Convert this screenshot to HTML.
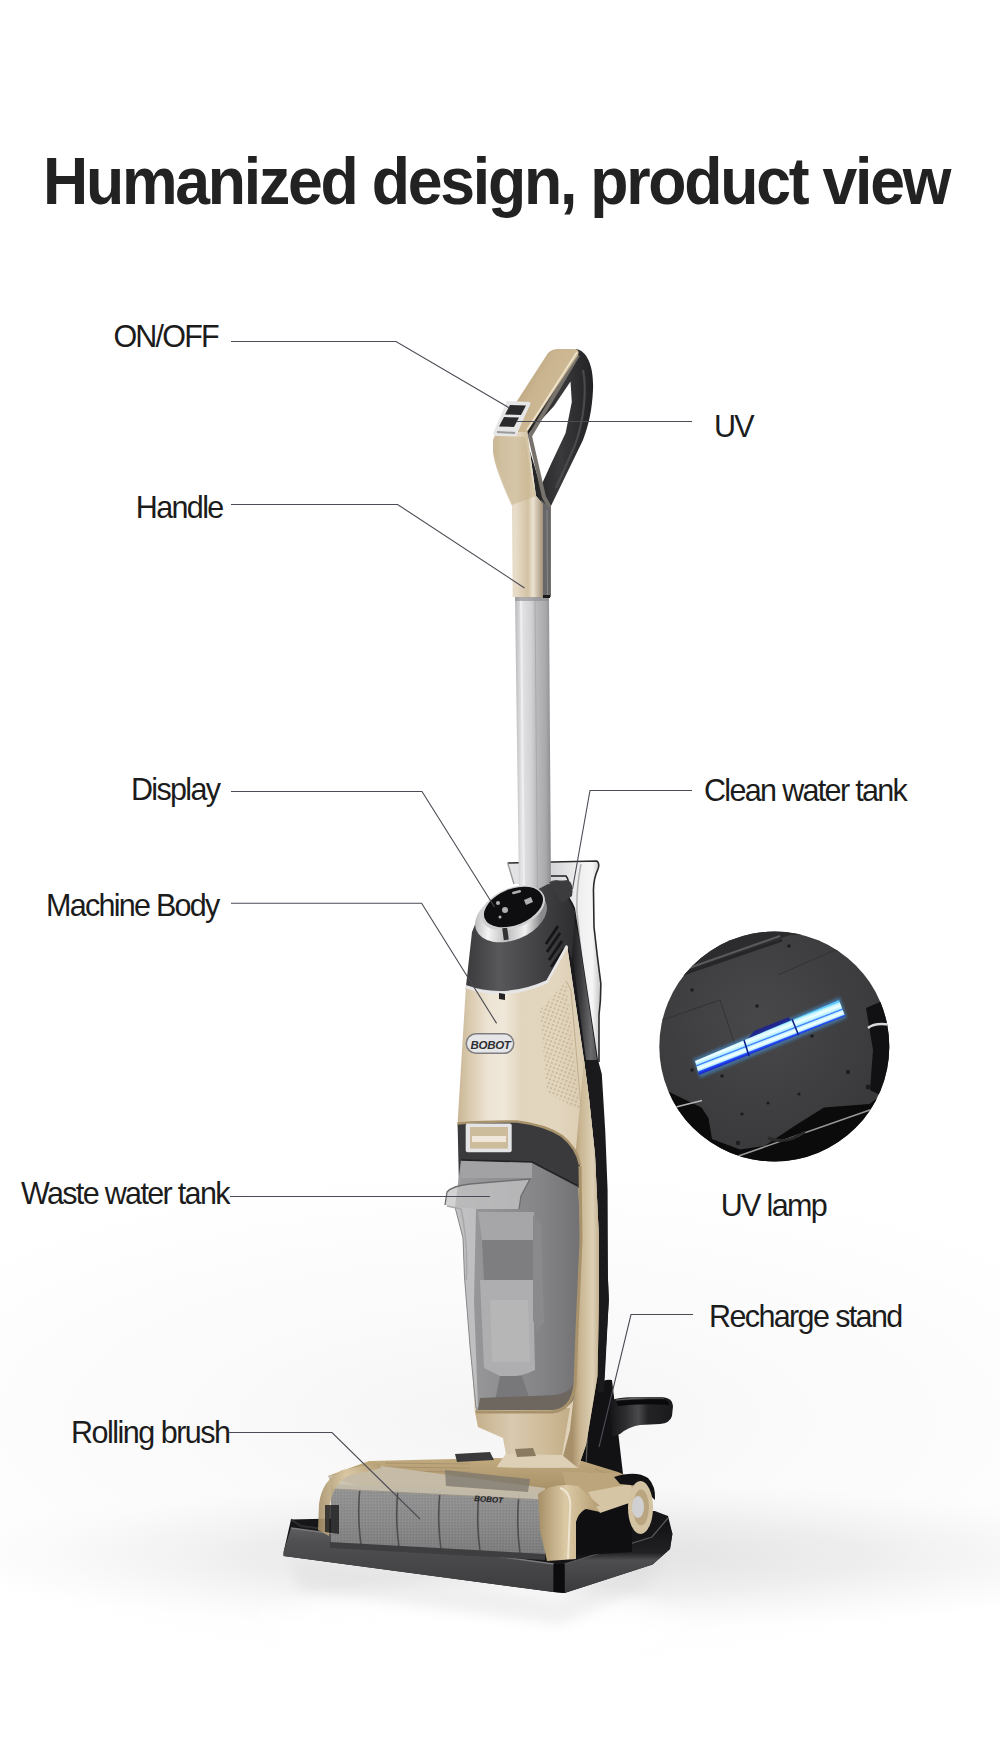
<!DOCTYPE html>
<html><head><meta charset="utf-8">
<style>
html,body{margin:0;padding:0;}
body{width:1000px;height:1737px;position:relative;overflow:hidden;
 background:#fff;font-family:"Liberation Sans",sans-serif;}
#bg{position:absolute;left:0;top:0;width:1000px;height:1737px;}
.ttl{position:absolute;left:43px;top:148.4px;font-size:66.5px;line-height:66.5px;font-weight:bold;color:#222;letter-spacing:-2.35px;white-space:nowrap;transform:scaleX(0.94);transform-origin:0 0;}
.lb{position:absolute;font-size:30.5px;line-height:30.5px;color:#1c1c1c;white-space:nowrap;}
svg{position:absolute;left:0;top:0;}
</style></head><body>
<svg id="bg" width="1000" height="1737" viewBox="0 0 1000 1737">
<defs>
<radialGradient id="bgg" cx="500" cy="1000" r="900" gradientUnits="userSpaceOnUse">
<stop offset="0.55" stop-color="#ffffff"/><stop offset="1" stop-color="#ffffff"/>
</radialGradient>
</defs>
<rect width="1000" height="1737" fill="url(#bgg)"/>
</svg>
<svg id="art" width="1000" height="1737" viewBox="0 0 1000 1737">
<defs>
<linearGradient id="gold" x1="0" y1="0" x2="1" y2="0">
<stop offset="0" stop-color="#cdb891"/><stop offset="0.35" stop-color="#ecdfc6"/><stop offset="0.7" stop-color="#dcc9a6"/><stop offset="1" stop-color="#b39c72"/>
</linearGradient>
<linearGradient id="pole" x1="0" y1="0" x2="1" y2="0">
<stop offset="0" stop-color="#b9b9bb"/><stop offset="0.18" stop-color="#e4e4e6"/><stop offset="0.45" stop-color="#d2d2d4"/><stop offset="0.6" stop-color="#bababc"/><stop offset="0.85" stop-color="#a9a9ab"/><stop offset="1" stop-color="#8c8c8e"/>
</linearGradient>
</defs>
<!-- ===== BACKGROUND BAND + reflection ===== -->
<defs>
<radialGradient id="band" cx="0" cy="0" r="1" gradientUnits="userSpaceOnUse" gradientTransform="translate(560 1556) scale(620 75)">
<stop offset="0" stop-color="#dcdcdc" stop-opacity="0.9"/><stop offset="0.5" stop-color="#e4e4e4" stop-opacity="0.6"/><stop offset="1" stop-color="#f0f0f0" stop-opacity="0"/>
</radialGradient>
<radialGradient id="band2" cx="0" cy="0" r="1" gradientUnits="userSpaceOnUse" gradientTransform="translate(500 1420) scale(700 260)">
<stop offset="0" stop-color="#f2f2f2" stop-opacity="0.8"/><stop offset="1" stop-color="#f6f6f6" stop-opacity="0"/>
</radialGradient>
<radialGradient id="reflg" cx="0" cy="0" r="1" gradientUnits="userSpaceOnUse" gradientTransform="translate(470 1630) scale(240 55)">
<stop offset="0" stop-color="#ffffff" stop-opacity="1"/><stop offset="0.7" stop-color="#ffffff" stop-opacity="0.8"/><stop offset="1" stop-color="#ffffff" stop-opacity="0"/>
</radialGradient>
</defs>
<rect x="0" y="1160" width="1000" height="520" fill="url(#band2)"/>
<rect x="0" y="1460" width="1000" height="200" fill="url(#band)"/>
<rect x="200" y="1560" width="560" height="140" fill="url(#reflg)"/>
<filter id="rblur" x="-10%" y="-50%" width="120%" height="200%"><feGaussianBlur stdDeviation="6"/></filter>
<path d="M290,1560 L560,1598 L665,1552 L650,1585 L560,1625 L300,1590 Z" fill="#d8d8d8" opacity="0.35" filter="url(#rblur)"/>
<!-- ===== TRAY ===== -->
<defs>
<linearGradient id="trayf" x1="0" y1="0" x2="0" y2="1">
<stop offset="0" stop-color="#5e5e60"/><stop offset="0.2" stop-color="#505052"/><stop offset="1" stop-color="#3c3c3e"/>
</linearGradient>
<linearGradient id="trayr" x1="0" y1="0" x2="0" y2="1">
<stop offset="0" stop-color="#111113"/><stop offset="0.45" stop-color="#222224"/><stop offset="0.55" stop-color="#4e4e50"/><stop offset="1" stop-color="#3a3a3c"/>
</linearGradient>
</defs>
<path d="M291,1519.5 L654.8,1511 L668,1516 L672.4,1533.8 L670,1549 L652.6,1564.6 L564.6,1593 L553.6,1592 L283.6,1556 L283.6,1552 Z" fill="#161618"/>
<path d="M291,1528 L553.6,1564 L553.6,1592 L283.6,1556 L283.6,1552 Z" fill="url(#trayf)"/>
<path d="M291,1528 L553.6,1564" stroke="#7a7a7c" stroke-width="1.3"/>
<path d="M291,1519.5 L301,1526 L545,1558" fill="none" stroke="#2e2e30" stroke-width="2"/>
<path d="M564.6,1564 L652,1537 L668,1520 L672.4,1533.8 L670,1549 L652.6,1564.6 L564.6,1593 Z" fill="url(#trayr)"/>
<path d="M553.6,1564 L564.6,1564 L564.6,1593 L553.6,1592 Z" fill="#0c0c0e"/>
<path d="M564.6,1564 L652,1537 L668,1518" fill="none" stroke="#5a5a5c" stroke-width="1.2"/>
<!-- ===== STAND ===== -->
<defs>
<linearGradient id="cupf" x1="0" y1="0" x2="1" y2="0">
<stop offset="0" stop-color="#151517"/><stop offset="0.25" stop-color="#2e2e30"/><stop offset="0.45" stop-color="#4a4a4c"/><stop offset="0.6" stop-color="#232325"/><stop offset="1" stop-color="#1a1a1c"/>
</linearGradient>
</defs>
<path d="M599,1240 L608,1280 L608.8,1300 L604,1380 L601,1384 Q603,1379 612,1380 L623,1474 L575,1474 L590,1300 Z" fill="#121214"/>
<path d="M610,1402 Q612,1397 640,1397 L662,1397 Q673,1398 673,1406 L672,1416 Q670,1423 660,1424 L640,1425 Q628,1427 620,1434 L612,1437 Z" fill="url(#cupf)"/>
<path d="M616,1401 Q640,1398.5 664,1399.5 Q670,1401 669,1405 Q640,1403 618,1406 Z" fill="#0a0a0c"/>
<path d="M616,1400 Q640,1397 664,1398" fill="none" stroke="#6a6a6c" stroke-width="1"/>
<path d="M588,1420 L586,1468" stroke="#5a5a5c" stroke-width="1.2"/>
<!-- ===== CLEAN WATER TANK (translucent) ===== -->
<defs>
<linearGradient id="ctg" gradientUnits="userSpaceOnUse" x1="505" y1="0" x2="602" y2="0">
<stop offset="0" stop-color="#e6e6e8"/><stop offset="0.5" stop-color="#d6d6d8"/><stop offset="0.75" stop-color="#eeeeef"/><stop offset="0.9" stop-color="#f6f6f6"/><stop offset="1" stop-color="#bdbdbf"/>
</linearGradient>
</defs>
<path d="M507.7,863 L596.8,861 Q600,863 598,869 Q593,880 593.5,892 L594,927 Q597,955 600.8,983 Q601,1000 599,1015 L599,1062 L584,1062 L570,926 L548,884 L514,884 Z" fill="url(#ctg)"/>
<path d="M507.7,863 L596.8,861 Q600,863 598,869 Q593,880 593.5,892 L594,927 Q597,955 600.8,983 Q601,1000 599,1015 L599,1062" fill="none" stroke="#2a2a2c" stroke-width="1.6"/>
<path d="M507.7,863 L514,884" fill="none" stroke="#9a9a9c" stroke-width="1.4"/>
<path d="M581,864 Q576,890 577,912 L590,1040" fill="none" stroke="#b0b0b2" stroke-width="1.5"/>
<path d="M551,876 L566,876 Q570,880 569,895 Q567,903 560,903" fill="none" stroke="#1e1e20" stroke-width="1.6"/>
<!-- ===== BACK SPINE ===== -->
<defs>
<linearGradient id="spg" gradientUnits="userSpaceOnUse" x1="570" y1="0" x2="600" y2="0">
<stop offset="0" stop-color="#161618"/><stop offset="0.35" stop-color="#3a3a3c"/><stop offset="0.7" stop-color="#6a6a6c"/><stop offset="1" stop-color="#4a4a4c"/>
</linearGradient>
</defs>
<path d="M548,884 Q566,886 575,908 L598,1060 L601.8,1074 L605.3,1132 L607.6,1190 L608,1280 L608.8,1300 L604,1392 L597.5,1392 L599,1300 L599,1240 L595,1155 L589,1098 L584,1060 L567,945 Z" fill="#1a1a1c"/>
<path d="M572,915 Q578,930 580,945 L597,1060 L586,1060 L573,960 Z" fill="url(#spg)"/>
<path d="M551,881 L556,880 L570,882 Q572,890 569,897 L556,898 Z" fill="#4a4a4c"/>
<!-- ===== POLE ===== -->
<path d="M515,597 L549,597 L551,890 L519,890 Z" fill="url(#pole)"/>
<path d="M535,600 L537.5,888" stroke="#a9a9ab" stroke-width="1"/>
<path d="M521,600 L524,888" stroke="#f2f2f4" stroke-width="2" opacity="0.8"/>
<path d="M515,597 L549,597 L549,601 L515,601 Z" fill="#8a8a8c" opacity="0.6"/>
<!-- ===== HANDLE ===== -->
<defs>
<linearGradient id="gface" gradientUnits="userSpaceOnUse" x1="515" y1="370" x2="560" y2="395">
<stop offset="0" stop-color="#b29d76"/><stop offset="0.5" stop-color="#c9b48f"/><stop offset="0.9" stop-color="#cdb994"/><stop offset="1" stop-color="#efe4cc"/>
</linearGradient>
<linearGradient id="gstem" x1="0" y1="0" x2="1" y2="0">
<stop offset="0" stop-color="#c7b493"/><stop offset="0.15" stop-color="#dccfb5"/><stop offset="0.45" stop-color="#e8ddca"/><stop offset="0.7" stop-color="#d3c2a3"/><stop offset="0.8" stop-color="#ece3d2"/><stop offset="1" stop-color="#a39279"/>
</linearGradient>
<linearGradient id="loopg" x1="0" y1="0" x2="1" y2="0">
<stop offset="0" stop-color="#1e1e20"/><stop offset="0.5" stop-color="#3a3a3c"/><stop offset="1" stop-color="#222224"/>
</linearGradient>
</defs>
<path d="M576,349 C588,351 594,368 593,390 C592,410 589,424 583,440 L550,508 L550,597 L543,597 L543,504 L536,496 L527,430 L576,352 Z" fill="url(#loopg)"/>
<path d="M570.5,381.5 L554,406 L529,433.3 L527,441.6 L539.7,483 L541,486 L551,464 L565.6,433 L571.8,402 Z" fill="#ffffff"/>
<path d="M583,370 C587,390 584,420 575,445 L556,488" fill="none" stroke="#4a4a4c" stroke-width="2.2"/>
<path d="M578,355 L530,436 L544,497 L549,506 L549,597" fill="none" stroke="#77736c" stroke-width="4"/>
<path d="M541,500 L550,508 L550,597 L543,597 Z" fill="#67676a"/>
<path d="M547,510 L547.5,595" stroke="#8a8a8c" stroke-width="1"/>
<path d="M543,595 L550,595 L550,598 L543,598 Z" fill="#1a1a1a"/>
<!-- gold: bend + stem -->
<path d="M497,430 L527,430 L536,496 L543,504 L543,597 L512.7,597 L512,506 Q495,470 493,452 L493,440 Z" fill="url(#gstem)"/>
<path d="M496,436 L525,437 Q530,470 536,496 L512,505 Q497,472 495,452 Z" fill="#c6b28d" opacity="0.55"/>
<!-- gold: top face -->
<path d="M548,353 Q552,349 558,349 L575,349 Q580,350 578,355 L527,432 L497,432 Z" fill="url(#gface)"/>
<path d="M577,352 L527,430" stroke="#f0e6d0" stroke-width="1.6"/>
<!-- control panel -->
<path d="M507,401 L530,402 Q531,404 529,407 L516,436 L496,436 Q492,436 494,431 Z" fill="#e6e6e6"/>
<path d="M510,405 L526,405.5 L521,415 L505,414.5 Z" fill="#2a2a2c"/>
<path d="M504,417 L519,417.5 L514,427 L499,426.5 Z" fill="#2a2a2c"/>
<path d="M497,432 L515,433" stroke="#9a9a9a" stroke-width="2"/>
<!-- ===== BRUSH TOP ===== -->
<defs>
<linearGradient id="btop" x1="0" y1="0" x2="0" y2="1">
<stop offset="0" stop-color="#c2aa7f"/><stop offset="1" stop-color="#9e875f"/>
</linearGradient>
</defs>
<path d="M369,1461 L497,1458 L582,1461 L618,1472 L642,1482 L604,1502 L370,1490 L328,1476 Z" fill="url(#btop)"/>
<g stroke="#a38e6c" stroke-width="1" opacity="0.8">
<path d="M385,1463 L470,1464"/><path d="M383,1467 L470,1468"/><path d="M381,1471 L470,1472"/><path d="M379,1475 L470,1476"/>
<path d="M585,1475 L615,1488"/><path d="M590,1472 L620,1485"/><path d="M595,1469 L625,1482"/>
</g>
<path d="M455,1454 L490,1452 L494,1460 L457,1462 Z" fill="#3a3a3c"/>
<!-- ===== HEAD DARK CAP ===== -->
<defs>
<linearGradient id="capg" x1="0" y1="0" x2="1" y2="0">
<stop offset="0" stop-color="#3a3a3c"/><stop offset="0.3" stop-color="#58585a"/><stop offset="0.6" stop-color="#464648"/><stop offset="1" stop-color="#2e2e30"/>
</linearGradient>
<linearGradient id="ringg" x1="0" y1="0" x2="1" y2="0.3">
<stop offset="0" stop-color="#9a9a9c"/><stop offset="0.3" stop-color="#f4f4f4"/><stop offset="0.55" stop-color="#bdbdbf"/><stop offset="0.8" stop-color="#f0f0f0"/><stop offset="1" stop-color="#8a8a8c"/>
</linearGradient>
</defs>
<path d="M548,884 Q562,884 569,900 L575,912 L572,960 L567,945 L547,981 Q505,1000 466,986 L472,932 L476,922 Z" fill="url(#capg)"/>
<path d="M549,882 L568,880 Q574,884 572,896 L562,903 Z" fill="#3c3c3e"/>
<!-- vents -->
<g stroke="#161618" stroke-width="2.8">
<path d="M558,926 L546,944"/><path d="M560,933 L547,952"/><path d="M562,941 L549,960"/><path d="M564,949 L551,967"/>
</g>
<!-- bottom silver band -->
<path d="M466,985 Q505,999 547,980 L567,945 L568,949 L549,984 Q505,1004 465,989 Z" fill="#d8d8d8"/>
<path d="M498,994 L504,995 L504,1000 L498,999 Z" fill="#222"/>
<!-- display ring -->
<ellipse cx="511" cy="916" rx="37.5" ry="24" transform="rotate(-22 511 916)" fill="url(#ringg)"/>
<ellipse cx="513" cy="908" rx="33.5" ry="20" transform="rotate(-22 513 908)" fill="#d0d0d2"/>
<ellipse cx="513.5" cy="907" rx="31" ry="18" transform="rotate(-22 513.5 907)" fill="#0e0e10"/>
<rect x="503" y="928" width="5" height="12" fill="#333" transform="rotate(-8 505 934)"/>
<g fill="#d8d8d8" opacity="0.8">
<rect x="512" y="891" width="9" height="2.5" rx="1" transform="rotate(-15 516 892)"/>
<path d="M524,900 L531,897 L533,902 L526,905 Z"/><circle cx="505" cy="910" r="3"/><circle cx="498" cy="903" r="2"/><circle cx="500" cy="917" r="1.5"/>
</g>
<!-- ===== GOLD BODY ===== -->
<defs>
<linearGradient id="bodyg" gradientUnits="userSpaceOnUse" x1="457" y1="0" x2="600" y2="0">
<stop offset="0" stop-color="#c8b594"/><stop offset="0.1" stop-color="#dccdb2"/><stop offset="0.22" stop-color="#ede4d4"/><stop offset="0.33" stop-color="#efe7d9"/><stop offset="0.45" stop-color="#e2d5bd"/><stop offset="0.7" stop-color="#e3d6bf"/><stop offset="0.88" stop-color="#dccdb2"/><stop offset="1" stop-color="#b8a37f"/>
</linearGradient>
<linearGradient id="frameg" gradientUnits="userSpaceOnUse" x1="572" y1="0" x2="604" y2="0">
<stop offset="0" stop-color="#a68f69"/><stop offset="0.25" stop-color="#c8b490"/><stop offset="0.65" stop-color="#ddd0b6"/><stop offset="1" stop-color="#b09a74"/>
</linearGradient>
<linearGradient id="baseg" gradientUnits="userSpaceOnUse" x1="474" y1="0" x2="600" y2="0">
<stop offset="0" stop-color="#c4af8a"/><stop offset="0.3" stop-color="#d9cab0"/><stop offset="0.6" stop-color="#cdb995"/><stop offset="1" stop-color="#b29c76"/>
</linearGradient>
<linearGradient id="tankg" gradientUnits="userSpaceOnUse" x1="445" y1="0" x2="580" y2="0">
<stop offset="0" stop-color="#b4b4b6"/><stop offset="0.12" stop-color="#9a9a9c"/><stop offset="0.45" stop-color="#8e8e90"/><stop offset="0.7" stop-color="#858587"/><stop offset="1" stop-color="#727274"/>
</linearGradient>
<pattern id="dots" width="4" height="4" patternUnits="userSpaceOnUse" patternTransform="rotate(20)">
<circle cx="2" cy="2" r="0.9" fill="#b9a788"/>
</pattern>
</defs>
<!-- body + frame + base gold -->
<path d="M466,986 Q505,1000 547,981 L567,945 L584,1060 L589,1098 L595,1155 L599,1240 L599,1300 L597.5,1376 L586,1445 L578,1468 L497,1467 L506,1454 L503,1438 L478,1427 L474.8,1412 L457.6,1123 L462,1050 Z" fill="url(#bodyg)"/>
<path d="M584,1060 L589,1098 L595,1155 L599,1240 L599,1300 L597.5,1376 L586,1445 L578,1468 L560,1468 L570,1430 L575,1385 L577,1330 L581,1240 L575,1160 Z" fill="url(#frameg)"/>
<path d="M474.8,1410 L570,1408 L560,1468 L497,1467 L506,1454 L503,1438 L478,1427 Z" fill="url(#baseg)"/>
<path d="M466,987 Q505,1001 547,982 L567,946" fill="none" stroke="#e6e6e6" stroke-width="2.6"/>
<path d="M499,993 L505,994 L505,1000 L499,999 Z" fill="#222"/>
<!-- grille -->
<path d="M566,981 L580,1110 L547,1093 L540,1010 Z" fill="url(#dots)" opacity="0.9"/>
<path d="M566,981 L571,990 L581,1108" fill="none" stroke="#bfae8c" stroke-width="1"/>
<!-- badge -->
<rect x="465.5" y="1033" width="49" height="21" rx="10.5" fill="#7e7e80"/>
<rect x="467" y="1034.5" width="46" height="18" rx="9" fill="#e6e6e8"/>
<text x="470.5" y="1048.5" font-family="Liberation Sans" font-weight="bold" font-style="italic" font-size="11.5" fill="#2e2e30" letter-spacing="-0.3">BOBOT</text>
<!-- dark band under body -->
<path d="M457.6,1123.4 Q490,1121 517,1121.6 Q545,1125 562,1136 Q577,1148 580,1165 L581,1188 L459,1188 Z" fill="#3a3a3c"/>
<path d="M457.6,1123.4 Q490,1121 517,1121.6 Q545,1125 562,1136 Q577,1148 580,1165" fill="none" stroke="#a8926c" stroke-width="2.5"/>
<!-- window -->
<rect x="465.7" y="1123.4" width="46" height="28.8" rx="2" fill="#e4e4e6"/>
<rect x="470" y="1127" width="38" height="21.6" fill="#cdbc9c"/>
<rect x="472" y="1136" width="34" height="6" fill="#efe8da"/>
<!-- waste tank -->
<path d="M461,1160 L532,1162 L578,1186 L581,1240 L577,1330 L575,1385 Q572,1408 552,1410 L476,1410 L470,1346 L464.5,1277 L463,1238 L455,1207 Z" fill="url(#tankg)"/>
<path d="M461,1160 L532,1162 L532,1178 L461,1178 Z" fill="#a2a2a4"/>
<path d="M461,1160 L532,1162 L578,1186" fill="none" stroke="#222224" stroke-width="1.6"/>
<!-- inner filter -->
<path d="M478,1212 L534,1212 L536,1240 L482,1240 Z" fill="#a6a6a8"/>
<path d="M482,1240 L534,1240 L536,1280 L484,1280 Z" fill="#7e7e80"/>
<path d="M480,1280 L533,1280 L535,1370 Q520,1378 500,1376 L484,1368 Z" fill="#aeaeb0"/>
<path d="M490,1300 L528,1300 L530,1362 L492,1362 Z" fill="#b9b9bb" opacity="0.7"/>
<path d="M533,1215 L541,1225 L544,1322 L537,1332 L533,1320 Z" fill="#8a8a8c"/>
<path d="M500,1376 L494,1406 L532,1406 L522,1376 Z" fill="#78787a"/>
<!-- left translucent wall -->
<path d="M455,1207 L476,1209 L474,1300 L478,1407 L476,1408 L470,1346 L464.5,1277 L463,1238 Z" fill="#c9c9cb" opacity="0.8"/>
<path d="M455,1207 L463,1238 L464.5,1277 L470,1346 L476,1408" fill="none" stroke="#8a8a8c" stroke-width="1"/>
<!-- tank bottom -->
<path d="M480,1398 L556,1395 Q572,1392 575,1380 L574,1398 Q570,1409 552,1410 L478,1410 Z" fill="#6e6760"/>
<!-- tank lid / spout (translucent) -->
<path d="M445,1205 L447,1192 Q452,1186 470,1184 L530,1179 L521,1196 L519,1209 L461,1209 Z" fill="#c4c4c6" opacity="0.75"/>
<path d="M445,1205 L447,1192 Q452,1186 470,1184 L530,1179 L521,1196 L519,1209" fill="none" stroke="#6e6e70" stroke-width="1.3"/>
<path d="M447,1206 L461,1209 Q468,1240 466.4,1280" fill="none" stroke="#a8a8aa" stroke-width="1.5"/>
<!-- neck details -->
<path d="M497,1467 L506,1454 L562,1455 L578,1468 Z" fill="#ddd0b6"/>
<path d="M515,1449 L533,1448 L536,1456 L517,1457 Z" fill="#8a7a60"/>
<!-- rim line frame inner -->
<path d="M580,1166 L581,1240 L577,1330 L575,1385 Q572,1410 552,1412 L476,1412" fill="none" stroke="#a8926c" stroke-width="3"/>
<!-- ===== BRUSH FRONT ===== -->
<defs>
<linearGradient id="rollg" x1="0" y1="0" x2="0" y2="1">
<stop offset="0" stop-color="#9c9c9c"/><stop offset="0.5" stop-color="#8a8a8a"/><stop offset="1" stop-color="#6e6e6e"/>
</linearGradient>
<linearGradient id="capr" x1="0" y1="0" x2="1" y2="0">
<stop offset="0" stop-color="#a68f66"/><stop offset="0.45" stop-color="#dccaa6"/><stop offset="1" stop-color="#b39c72"/>
</linearGradient>
<pattern id="felt" width="3" height="3" patternUnits="userSpaceOnUse">
<rect width="3" height="3" fill="#8a8a8a"/><rect width="1" height="1" fill="#a2a2a2"/><rect x="2" y="1" width="1" height="1" fill="#767676"/>
</pattern>
</defs>
<!-- inner channel -->

<!-- roller -->
<path d="M331,1484 L545,1494 L545,1556 L331,1544 Z" fill="url(#felt)"/>
<path d="M331,1484 L545,1494 L545,1556 L331,1544 Z" fill="url(#rollg)" opacity="0.55"/>
<g stroke="#4e4e4e" stroke-width="1.6" fill="none">
<path d="M360,1487 Q357,1515 361,1545"/><path d="M398,1489 Q395,1518 399,1547"/><path d="M440,1491 Q437,1521 441,1549"/><path d="M479,1492 Q476,1522 480,1551"/><path d="M519,1494 Q516,1524 520,1553"/>
</g>
<!-- cover top band -->
<path d="M328,1476 L382,1466 L545,1488 L545,1500 L333,1489 Z" fill="#c8bfac" opacity="0.9"/>
<path d="M333,1489 L545,1500" stroke="#9a948a" stroke-width="1.2"/>
<path d="M445,1470 L530,1479 L528,1492 L446,1486 Z" fill="#77736c" opacity="0.7"/>
<text x="474" y="1501" font-family="Liberation Sans" font-weight="bold" font-style="italic" font-size="8" fill="#222" transform="rotate(4 474 1501)">BOBOT</text>
<path d="M330,1542 L545,1554 L545,1560 L330,1548 Z" fill="#3e3e40"/>
<!-- left gold end cap -->
<path d="M318,1530 L319,1504 Q322,1480 342,1470 L379,1463 L381,1468 L348,1476 Q332,1485 330,1506 L329,1536 Z" fill="url(#capr)" opacity="0.9"/>
<path d="M325,1505 L339,1505 L339,1534 L325,1532 Z" fill="#1c1c1e" opacity="0.8"/>

<!-- right dark end -->
<path d="M566,1504 L632,1496 L632,1552 L566,1556 Z" fill="#0f0f11"/>
<!-- right gold top surface -->
<path d="M562,1472 L618,1473 L642,1483 L632,1500 L600,1512 L572,1506 Z" fill="#bca57c"/>
<path d="M588,1492 L630,1484 L638,1500 L600,1513 Z" fill="#d6c5a4"/>
<!-- right gold cap -->
<path d="M538,1494 Q552,1482 578,1486 L600,1506 Q580,1506 576,1522 L576,1559 L547,1561 L540,1530 Z" fill="url(#capr)"/>
<path d="M560,1488 Q572,1492 570,1510 L568,1559" fill="none" stroke="#f4ecdc" stroke-width="2" opacity="0.8"/>
<path d="M614,1477 Q636,1470 648,1478 Q656,1486 655,1500 L640,1486 L620,1484 Z" fill="#121214"/>
<!-- wheel -->
<ellipse cx="640.5" cy="1507.5" rx="12.5" ry="26.5" fill="#d4c3a2"/>
<ellipse cx="641" cy="1507.5" rx="8" ry="18" fill="#b9a680"/>
<ellipse cx="638" cy="1507" rx="6" ry="11" fill="#d0d0d2"/>
<!-- ===== UV circle ===== -->
<defs>
<clipPath id="uvc"><circle cx="774.3" cy="1046.5" r="115"/></clipPath>
<linearGradient id="uvbar" gradientUnits="userSpaceOnUse" x1="766" y1="1030" x2="772" y2="1045.5">
<stop offset="0" stop-color="#5ac8ff"/><stop offset="0.08" stop-color="#bff4ff"/><stop offset="0.25" stop-color="#f4ffff"/><stop offset="0.42" stop-color="#aef0ff"/><stop offset="0.5" stop-color="#3a6cff"/><stop offset="0.56" stop-color="#b8f4ff"/><stop offset="0.7" stop-color="#ffffff"/><stop offset="0.82" stop-color="#b0ecff"/><stop offset="0.88" stop-color="#2a50ff"/><stop offset="1" stop-color="#1a2ad0"/>
</linearGradient>
<radialGradient id="uvplate" cx="760" cy="1020" r="130" gradientUnits="userSpaceOnUse">
<stop offset="0" stop-color="#48484a"/><stop offset="1" stop-color="#3a3a3c"/>
</radialGradient>
</defs>
<g clip-path="url(#uvc)">
<rect x="655" y="925" width="240" height="245" fill="url(#uvplate)"/>
<path d="M655,925 L895,925 L895,935 L790,935 L700,968 L655,990 Z" fill="#2c2c2e"/>
<path d="M686,969 L780,936" stroke="#5a5a5c" stroke-width="2"/>
<path d="M680,975 L782,940" stroke="#262628" stroke-width="3"/>
<path d="M778,975 L835,950 L880,960" fill="none" stroke="#333335" stroke-width="1"/>
<path d="M662,1020 L720,1000 L740,1060" fill="none" stroke="#333335" stroke-width="1"/>
<path d="M866,1008 L880,1002 L900,998 L900,1100 L884,1097 L870,1090 L873,1050 Z" fill="#111113"/>
<path d="M868,1028 Q875,1022 892,1025" fill="none" stroke="#d8d8d8" stroke-width="2.5"/>
<path d="M655,1085 L665,1090 L701.5,1107.5 L708.5,1118 L712,1139 L740,1149.5 L764.5,1146 L796,1125 L824,1107.5 L869.5,1104 L883.5,1093.5 L900,1090 L900,1175 L655,1175 Z" fill="#0b0b0c"/>
<path d="M668,1109 L702,1100.5" stroke="#b5b5b5" stroke-width="1.6"/>
<path d="M737,1156.5 L887,1104" stroke="#9a9a9a" stroke-width="1.6"/>
<path d="M768,1138 Q785,1145 805,1132" fill="none" stroke="#2a2a2a" stroke-width="3"/>
<!-- screws -->
<g fill="#1c1c1e">
<circle cx="692" cy="990" r="1.8"/><circle cx="757" cy="1006" r="1.8"/><circle cx="789" cy="946" r="1.8"/>
<circle cx="848" cy="1072" r="2"/><circle cx="768" cy="1103" r="1.6"/><circle cx="799" cy="1094" r="1.6"/>
<circle cx="742" cy="1114" r="1.6"/><circle cx="738" cy="1143" r="2.2"/><circle cx="868" cy="1087" r="2.4"/>
<circle cx="692" cy="1070" r="1.8"/><circle cx="722" cy="1076" r="1.8"/><circle cx="812" cy="1036" r="1.8"/>
</g>
<!-- UV bar glow -->
<filter id="glow" x="-20%" y="-50%" width="140%" height="200%"><feGaussianBlur stdDeviation="1.6"/></filter>
<path d="M693,1059 L840,997 L847,1018 L700,1078 Z" fill="#4aa8ff" opacity="0.45" filter="url(#glow)"/>
<path d="M746,1041 L791,1021 L789,1017 L754,1031 Z" fill="#1a1e90" opacity="0.85"/>
<path d="M695,1061 L839,1000 L845,1016 L699,1075 Z" fill="url(#uvbar)"/>
<path d="M744,1040 L749,1056 M792,1019 L798.5,1035" stroke="#10208a" stroke-width="1.6"/>
</g>

</svg>

<div class="ttl">Humanized design, product view</div>
<div class="lb" style="left:113.4px;top:320.8px;letter-spacing:-1.8px">ON/OFF</div>
<div class="lb" style="left:135.8px;top:492.0px;letter-spacing:-1.64px">Handle</div>
<div class="lb" style="left:131.0px;top:774.0px;letter-spacing:-1.67px">Display</div>
<div class="lb" style="left:46.0px;top:889.7px;letter-spacing:-1.73px">Machine Body</div>
<div class="lb" style="left:21.0px;top:1178.0px;letter-spacing:-1.67px">Waste water tank</div>
<div class="lb" style="left:71.0px;top:1417.0px;letter-spacing:-1.5px">Rolling brush</div>
<div class="lb" style="left:714.0px;top:410.8px;letter-spacing:-1.8px">UV</div>
<div class="lb" style="left:704.0px;top:774.8px;letter-spacing:-1.67px">Clean water tank</div>
<div class="lb" style="left:720.7px;top:1190.4px;letter-spacing:-1.67px">UV lamp</div>
<div class="lb" style="left:709.0px;top:1300.6px;letter-spacing:-1.62px">Recharge stand</div>

<svg id="lines" width="1000" height="1737" viewBox="0 0 1000 1737">
<g fill="none" stroke="#4b4b55" stroke-width="1.1">
<polyline points="231,341.5 396,341.5 509.5,408"/>
<polyline points="517,421.5 692,421.5"/>
<polyline points="231,504.5 397.6,504.5 524.5,588"/>
<polyline points="231,791.5 422,791.5 494.5,907"/>
<polyline points="231,903.3 421.6,903.3 496.6,1023.4"/>
<polyline points="230,1196.5 490,1196.5"/>
<polyline points="229,1432.5 332,1432.5 420,1519"/>
<polyline points="692,790.5 590,790.5 572.5,889"/>
<polyline points="693,1314.5 631,1314.5 599,1447"/>
</g>
</svg>
</body></html>
